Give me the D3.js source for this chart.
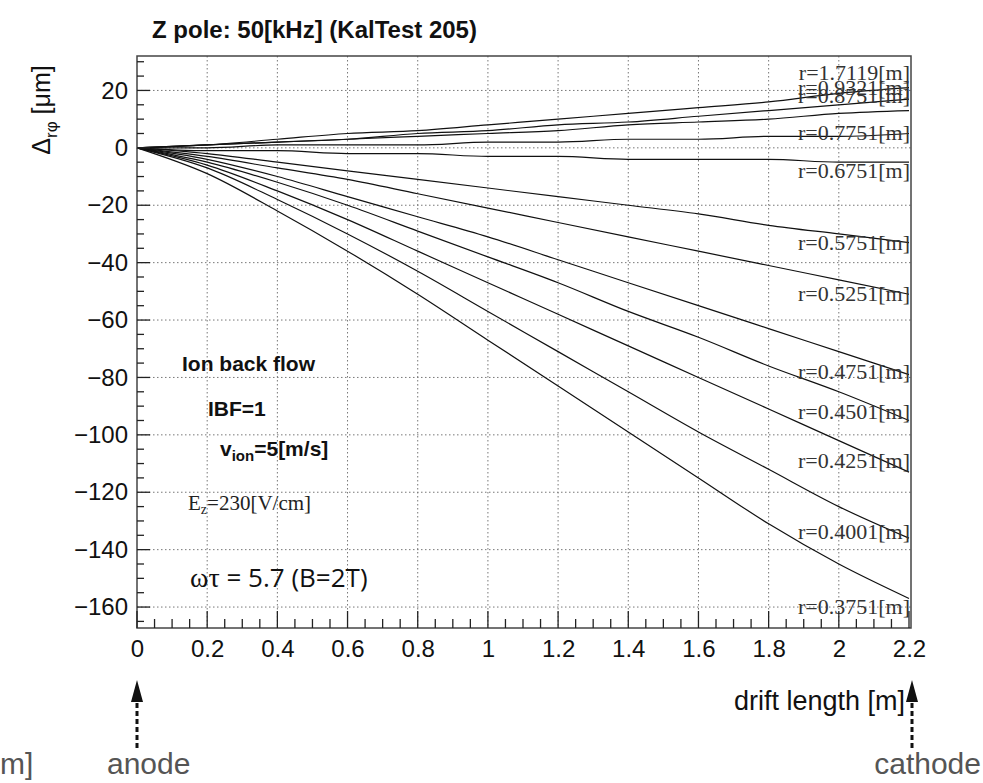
<!DOCTYPE html><html><head><meta charset="utf-8">
<script src="https://cdn.jsdelivr.net/npm/d3@7"></script>
<style>body{margin:0;background:#fff}</style></head><body>
<svg id="c" width="983" height="783"></svg>
<script>
const xs=[0,0.2,0.4,0.6,0.8,1.0,1.2,1.4,1.6,1.8,2.0,2.2];
const radii=["1.7119","0.9321","0.8751","0.7751","0.6751","0.5751","0.5251","0.4751","0.4501","0.4251","0.4001","0.3751"];
const s1_7119=[0,1,3,5,6,8,10,12,14,16,19,21];
const s0_9321=[0,1,2,3,5,6,8,9,11,13,15,17];
const s0_8751=[0,1,2,3,4,5,6,8,9,10,12,13];
const s0_7751=[0,0,1,1,1,2,2,3,3,4,4,5];
const s0_6751=[0,-1,-1,-2,-2,-3,-3,-4,-4,-4,-5,-5];
const s0_5751=[0,-2,-5,-8,-11,-14,-17,-20,-23,-27,-30,-33];
const s0_5251=[0,-3,-7,-11,-16,-21,-26,-31,-36,-41,-46,-51];
const s0_4751=[0,-4,-10,-17,-24,-31,-39,-47,-55,-63,-71,-79];
const s0_4501=[0,-5,-12,-20,-29,-38,-47,-57,-66,-76,-85,-95];
const s0_4251=[0,-6,-15,-25,-36,-47,-58,-69,-80,-91,-102,-113];
const s0_4001=[0,-7,-18,-30,-43,-57,-71,-85,-99,-112,-125,-136];
const s0_3751=[0,-9,-22,-36,-51,-67,-83,-99,-115,-131,-145,-157];
const series=[s1_7119,s0_9321,s0_8751,s0_7751,s0_6751,s0_5751,s0_5251,s0_4751,s0_4501,s0_4251,s0_4001,s0_3751];
const labelY=[26,21,18,5,-8,-33,-51,-78,-92,-109,-134,-160];
const xTicks=[0,0.2,0.4,0.6,0.8,1,1.2,1.4,1.6,1.8,2,2.2];
const yTicks=[20,0,-20,-40,-60,-80,-100,-120,-140,-160];

const svg=d3.select("#c");
const L=137,R=911,T=56,B=628;
const x=d3.scaleLinear().domain([0,2.2]).range([L,909]);
const y=d3.scaleLinear().domain([-167.3,32]).range([B,T]);
const sans="'Liberation Sans',Arial,sans-serif", serif="'Liberation Serif','Times New Roman',serif";

const g=svg.append("g");
xTicks.slice(1,-1).forEach(v=>g.append("line").attr("x1",x(v)).attr("x2",x(v)).attr("y1",T).attr("y2",B).attr("stroke","#777").attr("stroke-dasharray","1.5,2.5"));
yTicks.forEach(v=>g.append("line").attr("x1",L).attr("x2",R).attr("y1",y(v)).attr("y2",y(v)).attr("stroke","#777").attr("stroke-dasharray","1.5,2.5"));

const line=d3.line().x((d,i)=>x(xs[i])).y(d=>y(d)).curve(d3.curveMonotoneX);
series.forEach(s=>svg.append("path").attr("d",line(s)).attr("fill","none").attr("stroke","#111").attr("stroke-width",1.2));
radii.forEach((r,i)=>svg.append("text").attr("x",R-1).attr("y",y(labelY[i])+7).attr("text-anchor","end").attr("font-family",serif).attr("font-size",22).attr("fill","#333").text("r="+r+"[m]"));

svg.append("rect").attr("x",L).attr("y",T).attr("width",R-L).attr("height",B-T).attr("fill","none").attr("stroke","#444").attr("stroke-width",1.5);

const tk=svg.append("g");
d3.range(0,2.2001,0.05).forEach(v=>{const maj=Math.abs(v/0.2-Math.round(v/0.2))<1e-6;
 tk.append("line").attr("x1",x(v)).attr("x2",x(v)).attr("y1",B).attr("y2",B-(maj?17:9)).attr("stroke","#222").attr("stroke-width",1.3);});
d3.range(-165,31,5).forEach(v=>{const maj=v%20===0;
 tk.append("line").attr("x1",L).attr("x2",L+(maj?13:7)).attr("y1",y(v)).attr("y2",y(v)).attr("stroke","#222").attr("stroke-width",1.3);});
const xAxis=svg.append("g").attr("transform",`translate(0,${B})`).call(d3.axisBottom(x).tickValues(xTicks).tickSize(0).tickPadding(12).tickFormat(d3.format("~g")));
xAxis.select(".domain").remove();
xAxis.selectAll("text").attr("font-family",sans).attr("font-size",24).attr("fill","#111");
const yAxis=svg.append("g").attr("transform",`translate(${L},0)`).call(d3.axisLeft(y).tickValues(yTicks).tickSize(0).tickPadding(9).tickFormat(d=>d<0?"\u2212"+(-d):d));
yAxis.select(".domain").remove();
yAxis.selectAll("text").attr("font-family",sans).attr("font-size",24).attr("fill","#111");

svg.append("text").attr("x",152).attr("y",38).attr("font-family",sans).attr("font-weight","bold").attr("font-size",24).attr("fill","#111").text("Z pole: 50[kHz]  (KalTest 205)");
const yl=svg.append("text").attr("transform","translate(50,110) rotate(-90)").attr("text-anchor","middle").attr("font-family",sans).attr("font-size",25).attr("fill","#111");
yl.append("tspan").text("\u0394");yl.append("tspan").attr("font-size",17).attr("dy",7).text("r\u03c6");yl.append("tspan").attr("dy",-7).text(" [\u03bcm]");
svg.append("text").attr("x",905).attr("y",710).attr("text-anchor","end").attr("font-family",sans).attr("font-size",27).attr("fill","#111").text("drift length [m]");

svg.append("text").attr("x",182).attr("y",371).attr("font-family",sans).attr("font-weight","bold").attr("font-size",21).attr("fill","#111").text("Ion back flow");
svg.append("text").attr("x",208).attr("y",416).attr("font-family",sans).attr("font-weight","bold").attr("font-size",21).attr("fill","#111").text("IBF=1");
const vt=svg.append("text").attr("x",220).attr("y",456).attr("font-family",sans).attr("font-weight","bold").attr("font-size",21).attr("fill","#111");
vt.append("tspan").text("v");vt.append("tspan").attr("font-size",15).attr("dy",5).text("ion");vt.append("tspan").attr("dy",-5).text("=5[m/s]");
const et=svg.append("text").attr("x",188).attr("y",510).attr("font-family",serif).attr("font-size",21).attr("fill","#222");
et.append("tspan").text("E");et.append("tspan").attr("font-size",14).attr("dy",4).text("z");et.append("tspan").attr("dy",-4).text("=230[V/cm]");
const wt=svg.append("text").attr("x",190).attr("y",587).attr("font-family","'Open Sans',sans-serif").attr("font-size",26).attr("fill","#111");
wt.append("tspan").attr("font-family",serif).attr("font-size",28).text("\u03c9\u03c4");wt.append("tspan").text(" = 5.7 (B=2T)");

[x(0),x(2.2)+3].forEach(ax=>{
 svg.append("line").attr("x1",ax).attr("x2",ax).attr("y1",748).attr("y2",700).attr("stroke","#111").attr("stroke-width",3).attr("stroke-dasharray","5,3");
 svg.append("path").attr("d",`M${ax-6},${702} L${ax},${680} L${ax+6},${702} Z`).attr("fill","#111");
});
const gray="#555";
svg.append("text").attr("x",107).attr("y",774).attr("font-family",sans).attr("font-size",30).attr("fill",gray).text("anode");
svg.append("text").attr("x",981).attr("y",774).attr("text-anchor","end").attr("font-family",sans).attr("font-size",30).attr("fill",gray).text("cathode");
svg.append("text").attr("x",0).attr("y",774).attr("font-family",sans).attr("font-size",30).attr("fill",gray).text("m]");
</script></body></html>
